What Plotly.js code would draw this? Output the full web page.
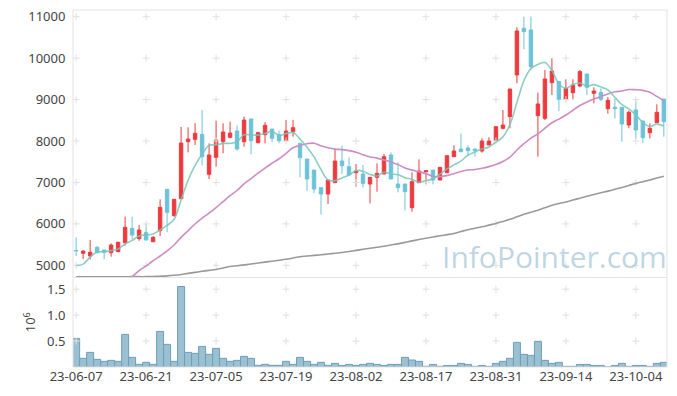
<!DOCTYPE html>
<html>
<head>
<meta charset="utf-8">
<script src="https://cdn.plot.ly/plotly-3.0.1.min.js"></script>
<style>html,body{margin:0;padding:0;background:#fff;}#chart{width:677px;height:396px;}</style>
</head>
<body>
<div id="chart"></div>
<script>
const dates = ['23-06-07','23-06-08','23-06-09','23-06-12','23-06-13','23-06-14','23-06-15','23-06-16','23-06-19','23-06-20',
'23-06-21','23-06-22','23-06-23','23-06-26','23-06-27','23-06-28','23-06-29','23-06-30','23-07-03','23-07-04',
'23-07-05','23-07-06','23-07-07','23-07-10','23-07-11','23-07-12','23-07-13','23-07-14','23-07-17','23-07-18',
'23-07-19','23-07-20','23-07-21','23-07-24','23-07-25','23-07-26','23-07-27','23-07-28','23-07-31','23-08-01',
'23-08-02','23-08-03','23-08-04','23-08-07','23-08-08','23-08-09','23-08-10','23-08-11','23-08-14','23-08-16',
'23-08-17','23-08-18','23-08-21','23-08-22','23-08-23','23-08-24','23-08-25','23-08-28','23-08-29','23-08-30',
'23-08-31','23-09-01','23-09-04','23-09-05','23-09-06','23-09-07','23-09-08','23-09-11','23-09-12','23-09-13',
'23-09-14','23-09-15','23-09-18','23-09-19','23-09-20','23-09-21','23-09-22','23-09-25','23-09-26','23-09-27',
'23-10-04','23-10-05','23-10-06','23-10-10','23-10-11'];

const open = [5360,5290,5225,5434,5370,5305,5330,5545,5892,5643,
5795,5571,5836,6834,6198,6608,7984,8040,8161,7196,
7607,7983,8089,8241,7984,8531,7960,8153,8290,8153,
8008,8225,7944,7566,7300,6874,6721,6994,7517,7381,
7236,7204,6962,7123,7204,7663,6962,6962,6391,6994,
7260,7300,7059,7236,7622,7807,7831,7807,7759,7904,
8016,8306,8588,9593,10721,10680,8612,8547,9408,9434,
9006,9167,9328,9618,9151,9175,8781,8813,8813,8387,
8749,8483,8201,8443,9014];
const high = [5675,5360,5611,5466,5370,5530,5570,6174,6174,5973,
5997,5708,6592,6834,6592,8338,8330,8427,8748,7944,
8491,8427,8467,8378,8588,8531,8225,8459,8290,8250,
8507,8507,7944,7566,7300,6874,7059,7783,7888,7606,
7445,7421,7130,7461,7686,7727,7485,6962,7244,7558,
7300,7300,7365,7646,7896,8185,7896,7807,8064,8089,
8346,8748,9256,10744,11000,11000,9167,9714,9996,9434,
9489,9489,9714,9618,9296,9272,9063,9014,8813,8733,
9006,8483,8427,8885,9014];
const low = [5224,5150,5143,5290,5143,5208,5314,5481,5626,5594,
5610,5555,5708,5796,6174,6608,7727,7904,7405,7083,
7381,7703,8064,7767,7863,7678,7944,7944,7976,7944,
8008,8105,7124,6801,6737,6222,6480,6994,7204,7155,
6898,6881,6496,6777,7204,7083,6761,6319,6294,6994,
6954,6954,7059,7220,7622,7727,7646,7622,7718,7904,
8016,8282,8306,9392,10213,9754,7622,8507,9111,8725,
9006,9006,9296,9111,8909,8966,8661,8548,7984,8306,
8041,7944,8064,8443,8105];
const close = [5350,5345,5314,5305,5314,5490,5555,5916,5731,5852,
5610,5675,6399,6279,6592,7952,8048,8185,7622,7663,
8024,8217,8193,7807,8507,8008,8201,8378,8064,8008,
8241,8322,7598,7083,6841,6721,7059,7517,7405,7180,
7276,6978,7123,7220,7622,7083,6874,6777,7019,7276,
7284,7059,7365,7646,7759,7743,7767,7767,8000,8000,
8346,8386,9256,10656,10640,9795,8894,9497,9690,9006,
9272,9352,9674,9296,9207,9006,8982,8781,8411,8693,
8266,8081,8306,8692,8467];

const ma5 = [4995,5030,5200,5320,5326,5354,5396,5516,5601,5709,
5733,5757,5853,5963,6111,6579,7054,7411,7680,7894,
7908,7942,7944,7981,8150,8146,8143,8180,8232,8132,
8178,8203,8047,7850,7617,7313,7060,7044,7109,7176,
7287,7271,7192,7155,7244,7205,7184,7115,7075,7006,
7046,7083,7201,7326,7423,7514,7656,7736,7807,7855,
7976,8100,8398,8929,9457,9747,9848,9896,9703,9376,
9272,9363,9399,9320,9360,9307,9233,9054,8877,8775,
8627,8446,8351,8408,8362];
const ma20 = [null,null,null,null,null,null,null,4590,4725,4870,
4985,5110,5225,5350,5490,5675,5836,5997,6140,6260,
6394,6537,6681,6806,6966,7092,7224,7347,7464,7572,
7703,7836,7895,7936,7948,7887,7837,7804,7793,7769,
7731,7669,7616,7587,7542,7496,7430,7350,7297,7261,
7213,7150,7138,7166,7212,7263,7299,7311,7341,7382,
7435,7506,7612,7784,7935,8071,8172,8308,8441,8528,
8627,8742,8857,8940,9012,9075,9136,9187,9207,9242,
9238,9223,9175,9077,8968];
const ma120 = [4725,4725,4725,4725,4725,4725,4725,4725,4726,4726,
4726,4730,4737,4745,4760,4780,4805,4830,4855,4878,
4900,4935,4970,4990,5010,5030,5055,5078,5100,5122,
5145,5176,5208,5224,5240,5255,5273,5291,5310,5335,
5360,5386,5410,5435,5460,5490,5518,5554,5590,5622,
5655,5684,5712,5740,5770,5815,5860,5895,5930,5970,
6010,6060,6110,6170,6230,6280,6330,6390,6450,6490,
6530,6575,6620,6665,6710,6750,6790,6835,6880,6928,
6975,7018,7060,7105,7150];

const volume = [0.551,0.167,0.282,0.147,0.109,0.128,0.109,0.628,0.186,0.051,
0.090,0.051,0.686,0.436,0.109,1.551,0.282,0.263,0.397,0.244,
0.359,0.167,0.109,0.128,0.205,0.167,0.032,0.051,0.032,0.032,
0.109,0.051,0.186,0.109,0.051,0.090,0.032,0.070,0.030,0.050,
0.030,0.050,0.070,0.050,0.030,0.050,0.050,0.186,0.135,0.109,
0.013,0.050,0.013,0.030,0.030,0.070,0.050,0.013,0.030,0.013,
0.070,0.109,0.167,0.474,0.244,0.224,0.494,0.128,0.070,0.090,
0.013,0.013,0.050,0.050,0.030,0.030,0.004,0.030,0.070,0.013,
0.030,0.030,0.013,0.070,0.090];

const xTickLabels = ['23-06-07','23-06-21','23-07-05','23-07-19','23-08-02','23-08-17','23-08-31','23-09-14','23-10-04'];
const priceTicks = [5000,6000,7000,8000,9000,10000,11000];
const volTicks = [0.5,1.0,1.5];
const volTickText = ['0.5','1.0','1.5'];

// grid crosses at tick intersections
const gx = [], gy = [], gx2 = [], gy2 = [];
xTickLabels.forEach(d => {
  priceTicks.forEach(v => { gx.push(d); gy.push(v); });
  volTicks.forEach(v => { gx2.push(d); gy2.push(v); });
});

const split = 89.5/357;
const tickFont = {family: 'Noto Sans, DejaVu Sans, sans-serif', size: 13, color: '#444'};

const traces = [
  {type:'scatter', mode:'markers', x: gx, y: gy, xaxis:'x', yaxis:'y', hoverinfo:'skip',
   marker:{symbol:'cross-thin', size:5, line:{width:1, color:'#e0e0e0'}}, showlegend:false},
  {type:'scatter', mode:'markers', x: gx2, y: gy2, xaxis:'x', yaxis:'y2', hoverinfo:'skip',
   marker:{symbol:'cross-thin', size:5, line:{width:1, color:'#e0e0e0'}}, showlegend:false},
  {type:'scatter', mode:'lines', x: dates, y: ma120, xaxis:'x', yaxis:'y',
   line:{color:'#9a9a9a', width:1.6, shape:'spline'}, showlegend:false, hoverinfo:'skip'},
  {type:'scatter', mode:'lines', x: dates, y: ma20, xaxis:'x', yaxis:'y',
   line:{color:'#cc8cc4', width:1.6, shape:'spline'}, showlegend:false, hoverinfo:'skip'},
  {type:'candlestick', x: dates, open: open, high: high, low: low, close: close, xaxis:'x', yaxis:'y',
   increasing:{line:{color:'#ee3a3e', width:1}, fillcolor:'#ee3a3e'},
   decreasing:{line:{color:'#6cc3d8', width:1}, fillcolor:'#6cc3d8'},
   whiskerwidth:0, showlegend:false, hoverinfo:'skip'},
  {type:'scatter', mode:'lines', x: dates, y: ma5, xaxis:'x', yaxis:'y',
   line:{color:'rgba(120,196,186,0.85)', width:1.6, shape:'spline'}, showlegend:false, hoverinfo:'skip'},
  {type:'bar', x: dates, y: volume, xaxis:'x', yaxis:'y2',
   marker:{color:'#9bc0d2', line:{color:'#6d9fb7', width:1}}, showlegend:false, hoverinfo:'skip'}
];

const layout = {
  width: 677, height: 396,
  margin: {l:73, r:10, t:10, b:29},
  paper_bgcolor:'#fff', plot_bgcolor:'#fff',
  bargap: 0.0,
  showlegend: false,
  xaxis: {type:'category', categoryorder:'array', categoryarray: dates,
    range:[-0.45, dates.length - 0.55], anchor:'y2',
    tickvals: xTickLabels, ticktext: xTickLabels, tickfont: tickFont,
    showgrid:false, zeroline:false, showline:false, ticks:'', tickangle:0,
    rangeslider:{visible:false}, fixedrange:true},
  yaxis: {domain:[split, 1], range:[4706, 11162], tickvals: priceTicks, tickformat:'d',
    tickfont: tickFont, showgrid:false, zeroline:false, showline:false, ticks:'outside', ticklen:4, tickcolor:'rgba(0,0,0,0)'},
  yaxis2: {domain:[0, split], range:[0, 1.725], tickvals: volTicks, ticktext: volTickText,
    tickfont: tickFont, showgrid:false, zeroline:false, showline:false, ticks:'outside', ticklen:4, tickcolor:'rgba(0,0,0,0)',
    title:{text:'10<sup>6</sup>', font: tickFont, standoff: 8}},
  shapes: [
    {type:'rect', xref:'paper', yref:'paper', x0:0, x1:1, y0:split, y1:1, line:{color:'#e3e3e3', width:1}, layer:'above'},
    {type:'rect', xref:'paper', yref:'paper', x0:0, x1:1, y0:0, y1:split, line:{color:'#e3e3e3', width:1}, layer:'above'}
  ],
  annotations: [
    {xref:'paper', yref:'paper', x:0.81, y:0.31, xanchor:'center', yanchor:'middle', text:'InfoPointer.com', showarrow:false,
     font:{family:'Open Sans, Noto Sans, sans-serif', size:30, color:'rgba(165,198,215,0.72)'}}
  ]
};

Plotly.newPlot('chart', traces, layout, {staticPlot:true, displayModeBar:false});
</script>
</body>
</html>
